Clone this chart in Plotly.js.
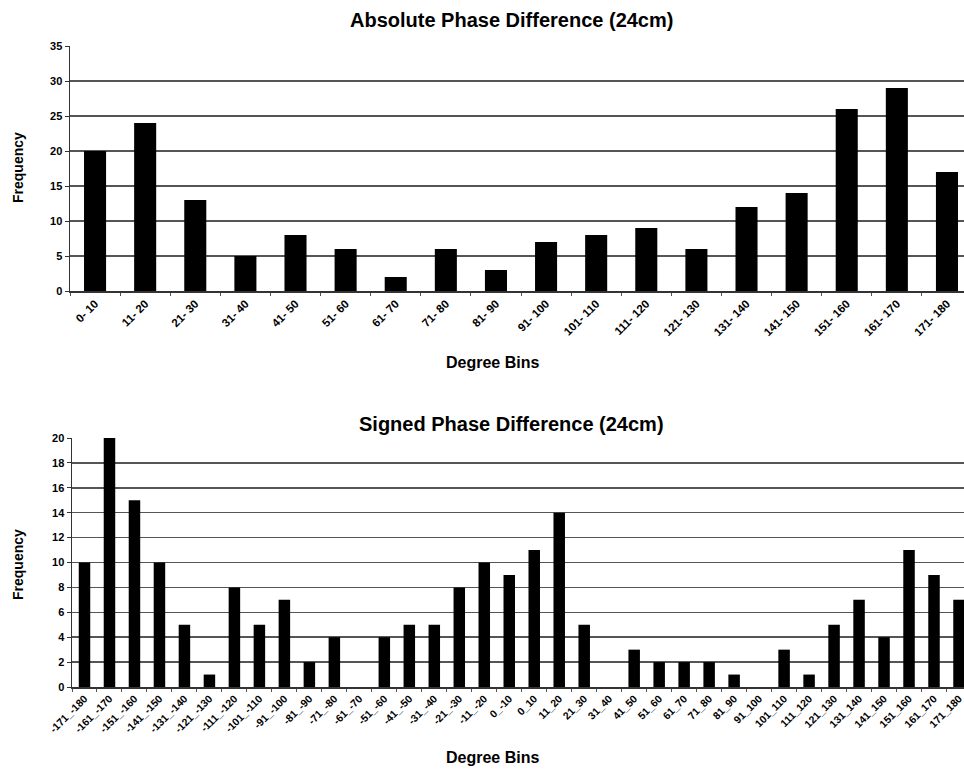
<!DOCTYPE html>
<html>
<head>
<meta charset="utf-8">
<script src="https://cdn.plot.ly/plotly-3.0.1.min.js"></script>
<style>html,body{margin:0;padding:0;background:#fff;}#chart{width:964px;height:770px;}</style>
</head>
<body>
<div id="chart"></div>
<script>
const absBins = ["0- 10","11- 20","21- 30","31- 40","41- 50","51- 60","61- 70","71- 80","81- 90","91- 100","101- 110","111- 120","121- 130","131- 140","141- 150","151- 160","161- 170","171- 180"];
const absFreq = [20,24,13,5,8,6,2,6,3,7,8,9,6,12,14,26,29,17];

const signedBins = ["-171_-180","-161_-170","-151_-160","-141_-150","-131_-140","-121_-130","-111_-120","-101_-110","-91_-100","-81_-90","-71_-80","-61_-70","-51_-60","-41_-50","-31_-40","-21_-30","-11_-20","0_-10","0_10","11_20","21_30","31_40","41_50","51_60","61_70","71_80","81_90","91_100","101_110","111_120","121_130","131_140","141_150","151_160","161_170","171_180"];
const signedFreq = [10,20,15,10,5,1,8,5,7,2,4,0,4,5,5,8,10,9,11,14,5,0,3,2,2,2,1,0,3,1,5,7,4,11,9,7];

const absTitle = "Absolute Phase Difference (24cm)";
const signedTitle = "Signed Phase Difference (24cm)";
const xTitle = "Degree Bins";
const yTitle = "Frequency";

const FONT = '"Liberation Sans", Arial, sans-serif';
const H = 770, W = 964;
const py = v => (H - v) / H;
const px = v => v / W;

const traces = [
  {type: 'bar', x: absBins, y: absFreq, xaxis: 'x', yaxis: 'y', width: 0.44,
   marker: {color: '#000'}, hoverinfo: 'x+y'},
  {type: 'bar', x: signedBins, y: signedFreq, xaxis: 'x2', yaxis: 'y2', width: 0.46,
   marker: {color: '#000'}, hoverinfo: 'x+y'}
];

const tickFont = {family: FONT, size: 11, color: '#000', weight: 'bold'};
const gridC = '#555';

const layout = {
  width: W, height: H,
  margin: {l: 0, r: 0, t: 0, b: 0},
  paper_bgcolor: '#fff', plot_bgcolor: '#fff',
  showlegend: false,
  font: {family: FONT, color: '#000'},
  xaxis: {
    domain: [px(70), 1], anchor: 'y', type: 'category',
    range: [-0.5, 17.34], tickangle: -45,
    tickfont: {family: FONT, size: 11.5, color: '#000', weight: 'bold'},
    showline: true, linecolor: '#333', linewidth: 1.5,
    ticks: 'outside', ticklen: 3, tickcolor: '#555', tickson: 'boundaries',
    showgrid: false, zeroline: false
  },
  yaxis: {
    domain: [py(291), py(46)], anchor: 'x',
    range: [0, 35], dtick: 5, tick0: 0,
    tickfont: tickFont,
    showline: true, linecolor: '#333', linewidth: 1.5,
    ticks: 'outside', ticklen: 4, tickcolor: '#333',
    showgrid: true, gridcolor: gridC, gridwidth: 1.5, zeroline: false
  },
  xaxis2: {
    domain: [px(72), 1], anchor: 'y2', type: 'category',
    range: [-0.5, 35.2], tickangle: -45,
    tickfont: {family: FONT, size: 10.5, color: '#000', weight: 'bold'},
    showline: true, linecolor: '#333', linewidth: 1.5,
    ticks: 'outside', ticklen: 3, tickcolor: '#555', tickson: 'boundaries',
    showgrid: false, zeroline: false
  },
  yaxis2: {
    domain: [py(687), py(438)], anchor: 'x2',
    range: [0, 20], dtick: 2, tick0: 0,
    tickfont: tickFont,
    showline: true, linecolor: '#333', linewidth: 1.5,
    ticks: 'outside', ticklen: 4, tickcolor: '#333',
    showgrid: true, gridcolor: gridC, gridwidth: 1.5, zeroline: false
  },
  annotations: [
    {text: absTitle, x: px(511), y: py(20), xref: 'paper', yref: 'paper', showarrow: false,
     font: {family: FONT, size: 20, color: '#000', weight: 'bold'}, xanchor: 'center', yanchor: 'middle'},
    {text: xTitle, x: px(493), y: py(362), xref: 'paper', yref: 'paper', showarrow: false,
     font: {family: FONT, size: 16, color: '#000', weight: 'bold'}, xanchor: 'center', yanchor: 'middle'},
    {text: yTitle, x: px(18), y: py(168), xref: 'paper', yref: 'paper', showarrow: false, textangle: -90,
     font: {family: FONT, size: 14, color: '#000', weight: 'bold'}, xanchor: 'center', yanchor: 'middle'},
    {text: signedTitle, x: px(511), y: py(424), xref: 'paper', yref: 'paper', showarrow: false,
     font: {family: FONT, size: 20, color: '#000', weight: 'bold'}, xanchor: 'center', yanchor: 'middle'},
    {text: xTitle, x: px(493), y: py(757), xref: 'paper', yref: 'paper', showarrow: false,
     font: {family: FONT, size: 16, color: '#000', weight: 'bold'}, xanchor: 'center', yanchor: 'middle'},
    {text: yTitle, x: px(18), y: py(565), xref: 'paper', yref: 'paper', showarrow: false, textangle: -90,
     font: {family: FONT, size: 14, color: '#000', weight: 'bold'}, xanchor: 'center', yanchor: 'middle'}
  ]
};

Plotly.newPlot('chart', traces, layout, {displayModeBar: false, staticPlot: true});
</script>
</body>
</html>
